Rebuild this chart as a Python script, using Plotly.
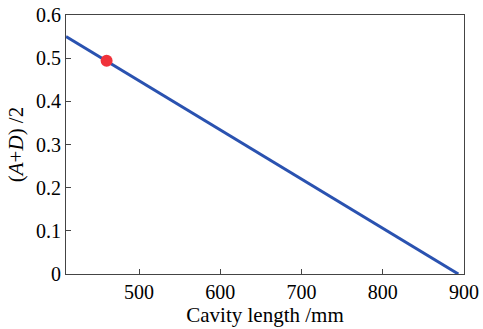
import plotly.graph_objects as go

cavity_length = [410, 500, 600, 700, 800, 893]
half_trace = [0.550, 0.4475, 0.333, 0.219, 0.1055, 0.0]
point_x = [460]
point_y = [0.494]

fig = go.Figure()
fig.add_trace(go.Scatter(x=cavity_length, y=half_trace, mode="lines",
                         line=dict(color="#2a52b0", width=3), showlegend=False))
fig.add_trace(go.Scatter(x=point_x, y=point_y, mode="markers",
                         marker=dict(color="#f0323a", size=12), showlegend=False))

font = "Liberation Serif, DejaVu Serif, serif"
fig.update_layout(
    width=483, height=329,
    margin=dict(l=66, r=19, t=15, b=55),
    paper_bgcolor="white", plot_bgcolor="white",
    font=dict(family=font, size=20, color="black"),
    xaxis=dict(range=[410, 900], tickvals=[500, 600, 700, 800, 900],
               ticks="inside", ticklen=5, tickcolor="#444", showline=True,
               linecolor="#444", linewidth=1, mirror=True, showgrid=False,
               zeroline=False, automargin=False,
               title=dict(text="Cavity length /mm", standoff=0, font=dict(size=21))),
    yaxis=dict(range=[0, 0.6], tickvals=[0, 0.1, 0.2, 0.3, 0.4, 0.5, 0.6],
               ticktext=["0", "0.1", "0.2", "0.3", "0.4", "0.5", "0.6"],
               ticks="inside", ticklen=5, tickcolor="#444", showline=True,
               linecolor="#444", linewidth=1, mirror=True, showgrid=False,
               zeroline=False, automargin=False,
               title=dict(text="(<i>A</i>+<i>D</i>) /2", standoff=6, font=dict(size=21))),
)
fig.write_html("out.html", config={"displayModeBar": False},
               post_script="document.body.style.margin='0';document.body.style.overflow='hidden';")
